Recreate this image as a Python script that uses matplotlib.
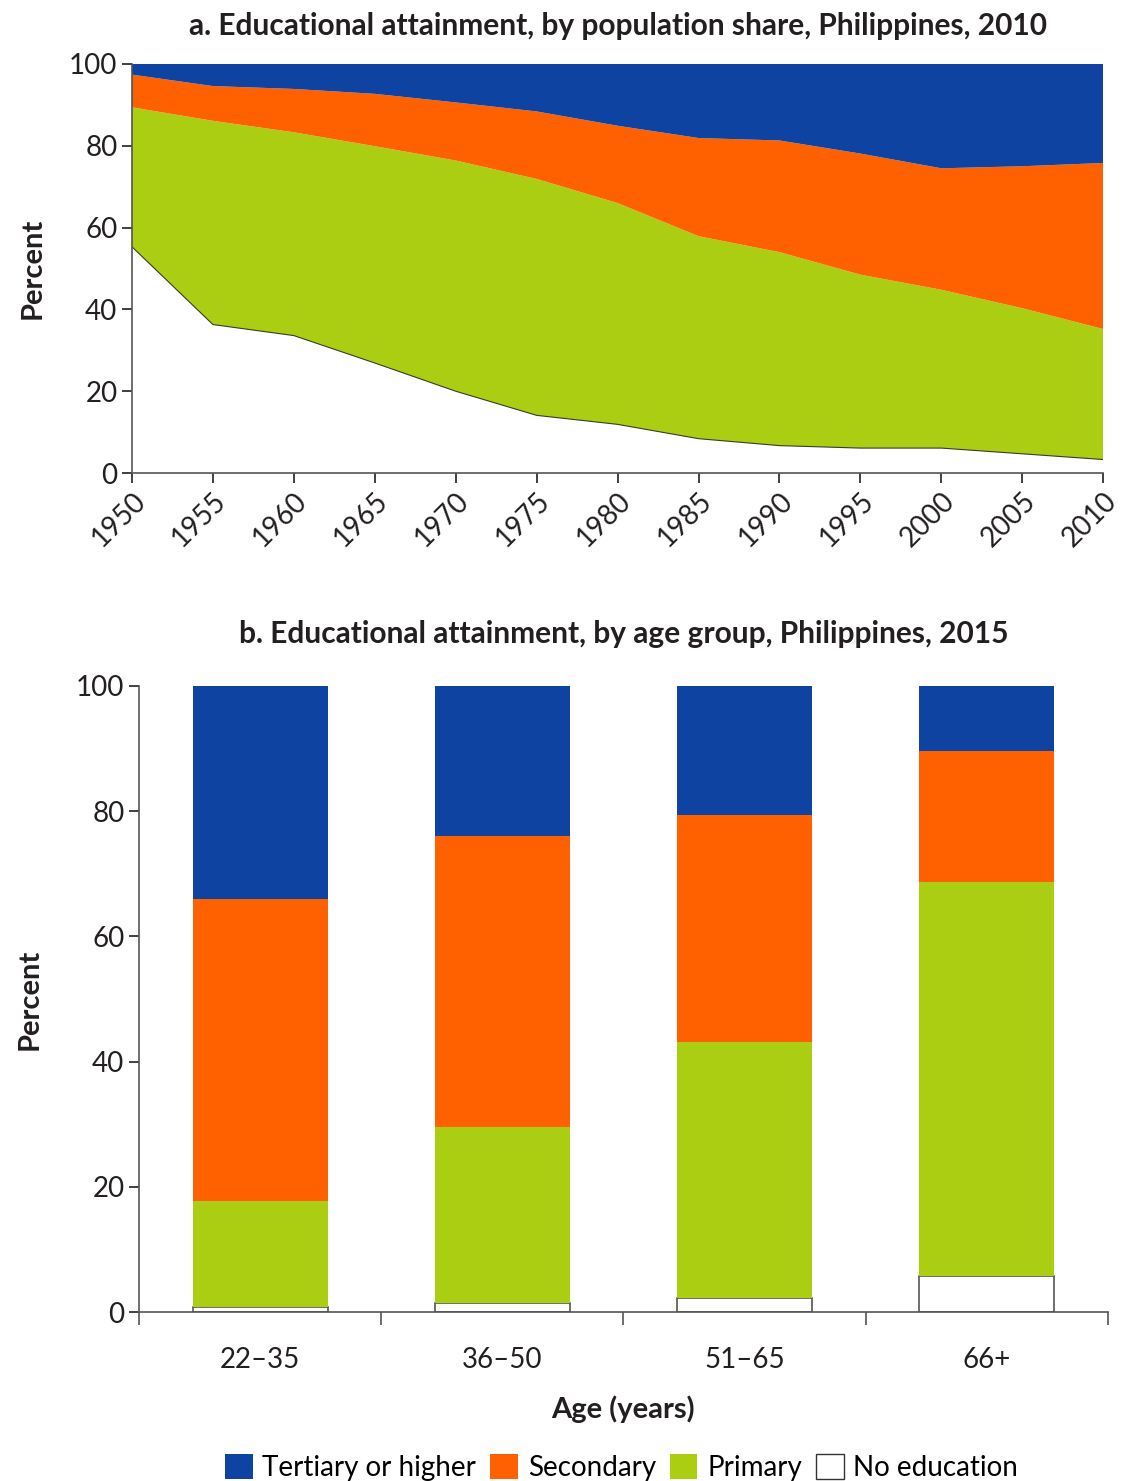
import numpy as np
import matplotlib.pyplot as plt
from matplotlib.patches import Patch

plt.rcParams['font.family'] = ['Lato', 'DejaVu Sans']

# panel a: shares by year (percent)
years = [1950, 1955, 1960, 1965, 1970, 1975, 1980, 1985, 1990, 1995, 2000, 2005, 2010]
no_edu = [55.3, 36.3, 33.6, 26.9, 20.0, 14.1, 11.9, 8.4, 6.7, 6.1, 6.1, 4.7, 3.3]
primary = [34.1, 49.8, 49.7, 53.0, 56.4, 57.8, 54.1, 49.5, 47.3, 42.4, 38.7, 35.6, 31.9]
secondary = [8.0, 8.5, 10.6, 12.8, 14.2, 16.5, 18.9, 24.0, 27.3, 29.6, 29.7, 34.7, 40.6]
tertiary = [2.6, 5.4, 6.1, 7.3, 9.4, 11.6, 15.1, 18.1, 18.7, 21.9, 25.5, 25.0, 24.2]

# panel b: by age group, 2015
ages = ['22\u201335', '36\u201350', '51\u201365', '66+']
b_no_edu = [0.8, 1.5, 2.3, 5.8]
b_primary = [16.9, 28.1, 40.8, 62.9]
b_secondary = [48.3, 46.4, 36.3, 20.9]
b_tertiary = [34.0, 24.0, 20.6, 10.4]

c_ter = '#0e43a1'
c_sec = '#ff6100'
c_pri = '#abce13'
txt = '#231f20'

fig = plt.figure(figsize=(11.28, 14.81), dpi=100)

# ---- panel a
ax1 = fig.add_axes([0.117, 0.6806, 0.861, 0.2762])
ax1.stackplot(years, no_edu, primary, secondary, tertiary,
              colors=['white', c_pri, c_sec, c_ter], linewidth=0)
ax1.plot(years, no_edu, color='#3a3a2a', lw=0.8)
ax1.set_xlim(1950, 2010)
ax1.set_ylim(0, 100)
ax1.set_xticks(years)
ax1.set_xticklabels([str(y) for y in years], rotation=45, ha='right',
                    rotation_mode='anchor', fontsize=20, color=txt)
ax1.set_yticks(range(0, 101, 20))
ax1.tick_params(axis='y', labelsize=20, colors=txt, length=7, width=1.2)
ax1.tick_params(axis='x', length=7, width=1.2, colors=txt)
for s in ['top', 'right']:
    ax1.spines[s].set_visible(False)
for s in ['left', 'bottom']:
    ax1.spines[s].set_linewidth(1.2)
    ax1.spines[s].set_color('#555555')
ax1.set_ylabel('Percent', fontsize=21, fontweight='bold', color=txt, labelpad=17)
ax1.set_title('a. Educational attainment, by population share, Philippines, 2010',
              fontsize=21.5, fontweight='bold', color=txt, pad=21)

# ---- panel b
ax2 = fig.add_axes([0.1232, 0.1141, 0.859, 0.4227])
x = np.arange(len(ages))
w = 0.557
ax2.bar(x, b_no_edu, w, color='white', edgecolor='#555555', linewidth=1.2)
bot = np.array(b_no_edu)
ax2.bar(x, b_primary, w, bottom=bot, color=c_pri)
bot = bot + np.array(b_primary)
ax2.bar(x, b_secondary, w, bottom=bot, color=c_sec)
bot = bot + np.array(b_secondary)
ax2.bar(x, b_tertiary, w, bottom=bot, color=c_ter)
ax2.set_xlim(-0.5, len(ages) - 0.5)
ax2.set_ylim(0, 100)
ax2.set_xticks(np.arange(len(ages) + 1) - 0.5)
ax2.set_xticklabels([])
ax2.set_xticks(x, minor=True)
ax2.set_xticklabels(ages, minor=True, fontsize=20, color=txt)
ax2.tick_params(axis='x', which='major', length=9, width=1.2, colors='#555555')
ax2.tick_params(axis='x', which='minor', length=0, pad=25)
ax2.set_yticks(range(0, 101, 20))
ax2.tick_params(axis='y', labelsize=20, colors=txt, length=7, width=1.2)
for s in ['top', 'right']:
    ax2.spines[s].set_visible(False)
for s in ['left', 'bottom']:
    ax2.spines[s].set_linewidth(1.2)
    ax2.spines[s].set_color('#555555')
ax2.set_ylabel('Percent', fontsize=21, fontweight='bold', color=txt, labelpad=24)
ax2.set_xlabel('Age (years)', fontsize=21, fontweight='bold', color=txt, labelpad=16)
ax2.set_title('b. Educational attainment, by age group, Philippines, 2015',
              fontsize=21.5, fontweight='bold', color=txt, pad=31)

handles = [Patch(facecolor=c_ter, label='Tertiary or higher'),
           Patch(facecolor=c_sec, label='Secondary'),
           Patch(facecolor=c_pri, label='Primary'),
           Patch(facecolor='white', edgecolor='#333333', label='No education')]
fig.legend(handles=handles, loc='lower center', bbox_to_anchor=(0.551, -0.017), ncol=4,
           frameon=False, fontsize=20, handlelength=1.0, handleheight=1.0,
           handletextpad=0.35, columnspacing=0.5)

fig.savefig('out.png', dpi=100)
